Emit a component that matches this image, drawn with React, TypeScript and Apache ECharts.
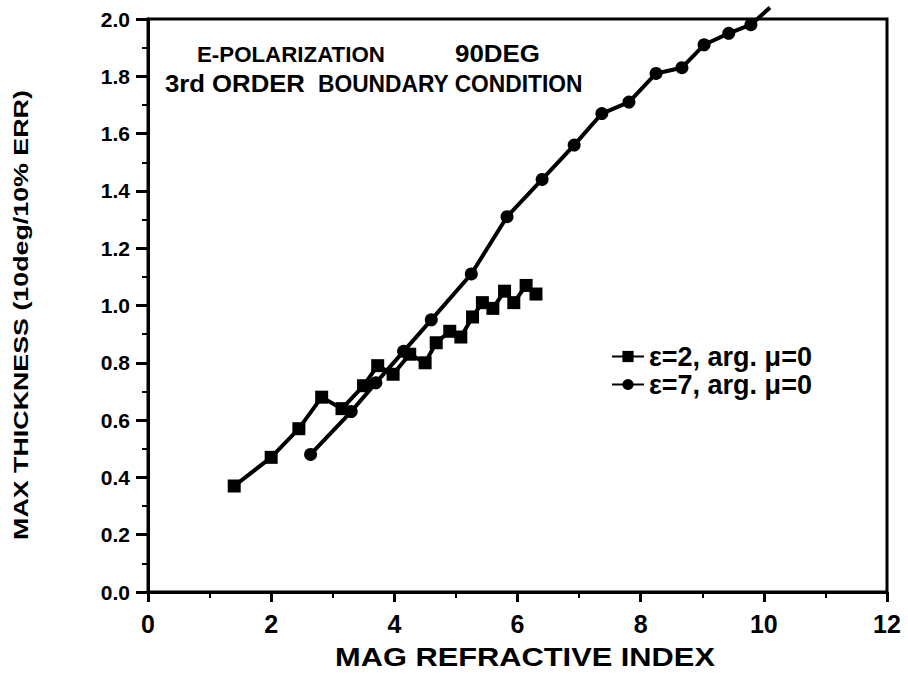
import React, { useEffect, useRef } from "react";
import * as echarts from "echarts";

const eps2Label = "ε=2, arg. μ=0";
const eps7Label = "ε=7, arg. μ=0";

const eps2X = [1.4, 2.0, 2.45, 2.82, 3.15, 3.5, 3.73, 3.98, 4.25, 4.5, 4.68, 4.9, 5.08, 5.27, 5.43, 5.6, 5.79, 5.94, 6.14, 6.3];
const eps2Y = [0.37, 0.47, 0.57, 0.68, 0.64, 0.72, 0.79, 0.76, 0.83, 0.8, 0.87, 0.91, 0.89, 0.96, 1.01, 0.99, 1.05, 1.01, 1.07, 1.04];

const eps7X = [2.64, 3.3, 3.7, 4.15, 4.6, 5.25, 5.83, 6.4, 6.92, 7.37, 7.81, 8.25, 8.67, 9.03, 9.43, 9.79, 10.1];
const eps7Y = [0.48, 0.63, 0.73, 0.84, 0.95, 1.11, 1.31, 1.44, 1.56, 1.67, 1.71, 1.81, 1.83, 1.91, 1.95, 1.98, 2.04];

const titleWords = ["E-POLARIZATION", "90DEG", "3rd ORDER", "BOUNDARY CONDITION"];
const xAxisName = "MAG REFRACTIVE INDEX";
const yAxisName = "MAX THICKNESS (10deg/10% ERR)";

const FONT = "'Liberation Sans', Arial, sans-serif";

function measure(text: string, font: string): number {
  const c = document.createElement("canvas");
  const ctx = c.getContext("2d");
  if (!ctx) return text.length * 10;
  ctx.font = font;
  return ctx.measureText(text).width;
}

function fitText(text: string, size: number, x: number, y: number, width: number, align: "left" | "center", rotation = 0) {
  const font = `bold ${size}px ${FONT}`;
  const w = measure(text, font);
  return {
    type: "text",
    x,
    y,
    rotation,
    scaleX: width / w,
    style: { text, fill: "#000", font, textAlign: align, textVerticalAlign: "middle" },
  };
}

export default function App() {
  const ref = useRef<HTMLDivElement>(null);
  useEffect(() => {
    if (!ref.current) return;
    const chart = echarts.init(ref.current, undefined, { renderer: "svg" });
    const s2 = eps2X.map((x, i) => [x, eps2Y[i]]);
    const s7 = eps7X.map((x, i) =>
      i === eps7X.length - 1 ? { value: [x, eps7Y[i]], symbol: "none" } : [x, eps7Y[i]]
    );
    const labelStyle = { color: "#000", fontFamily: FONT, fontWeight: "bold" as const };
    chart.setOption({
      animation: false,
      backgroundColor: "#fff",
      grid: {
        left: 148,
        right: 21,
        top: 19,
        bottom: 101,
        show: true,
        borderColor: "#000",
        borderWidth: 3,
        backgroundColor: "transparent",
      },
      legend: {
        orient: "vertical",
        left: 606,
        top: 338,
        itemWidth: 32,
        itemHeight: 14,
        itemGap: 1,
        textStyle: { ...labelStyle, fontSize: 27, lineHeight: 27 },
        data: [eps2Label, eps7Label],
      },
      xAxis: {
        type: "value",
        min: 0,
        max: 12,
        interval: 2,
        axisLine: { show: true, lineStyle: { color: "#000", width: 3 } },
        axisTick: { show: true, inside: false, length: 10, lineStyle: { color: "#000", width: 3 } },
        minorTick: { show: true, splitNumber: 2, length: 6, lineStyle: { color: "#000", width: 2 } },
        axisLabel: { ...labelStyle, fontSize: 25, margin: 19 },
        splitLine: { show: false },
      },
      yAxis: {
        type: "value",
        min: 0,
        max: 2,
        interval: 0.2,
        axisLine: { show: true, lineStyle: { color: "#000", width: 3 } },
        axisTick: { show: true, inside: false, length: 12, lineStyle: { color: "#000", width: 3 } },
        minorTick: { show: true, splitNumber: 2, length: 6, lineStyle: { color: "#000", width: 2 } },
        axisLabel: { ...labelStyle, fontSize: 21, margin: 18, formatter: (v: number) => v.toFixed(1) },
        splitLine: { show: false },
      },
      graphic: [
        fitText(titleWords[0], 23, 197, 54, 188, "left"),
        fitText(titleWords[1], 23, 455, 54, 85, "left"),
        fitText(titleWords[2], 23, 165, 84, 140, "left"),
        fitText(titleWords[3], 23, 318, 84, 265, "left"),
        fitText(xAxisName, 26, 525, 657, 380, "center"),
        fitText(yAxisName, 20, 21, 315, 450, "center", Math.PI / 2),
      ],
      series: [
        {
          name: eps2Label,
          type: "line",
          data: s2,
          symbol: "rect",
          symbolSize: 13,
          color: "#000",
          lineStyle: { color: "#000", width: 4 },
          itemStyle: { color: "#000" },
          clip: false,
        },
        {
          name: eps7Label,
          type: "line",
          data: s7,
          symbol: "circle",
          symbolSize: 13,
          color: "#000",
          lineStyle: { color: "#000", width: 4 },
          itemStyle: { color: "#000" },
          clip: false,
        },
      ],
    });
    return () => chart.dispose();
  }, []);
  return <div ref={ref} style={{ position: "absolute", left: 0, top: 0, width: 908, height: 693 }} />;
}
